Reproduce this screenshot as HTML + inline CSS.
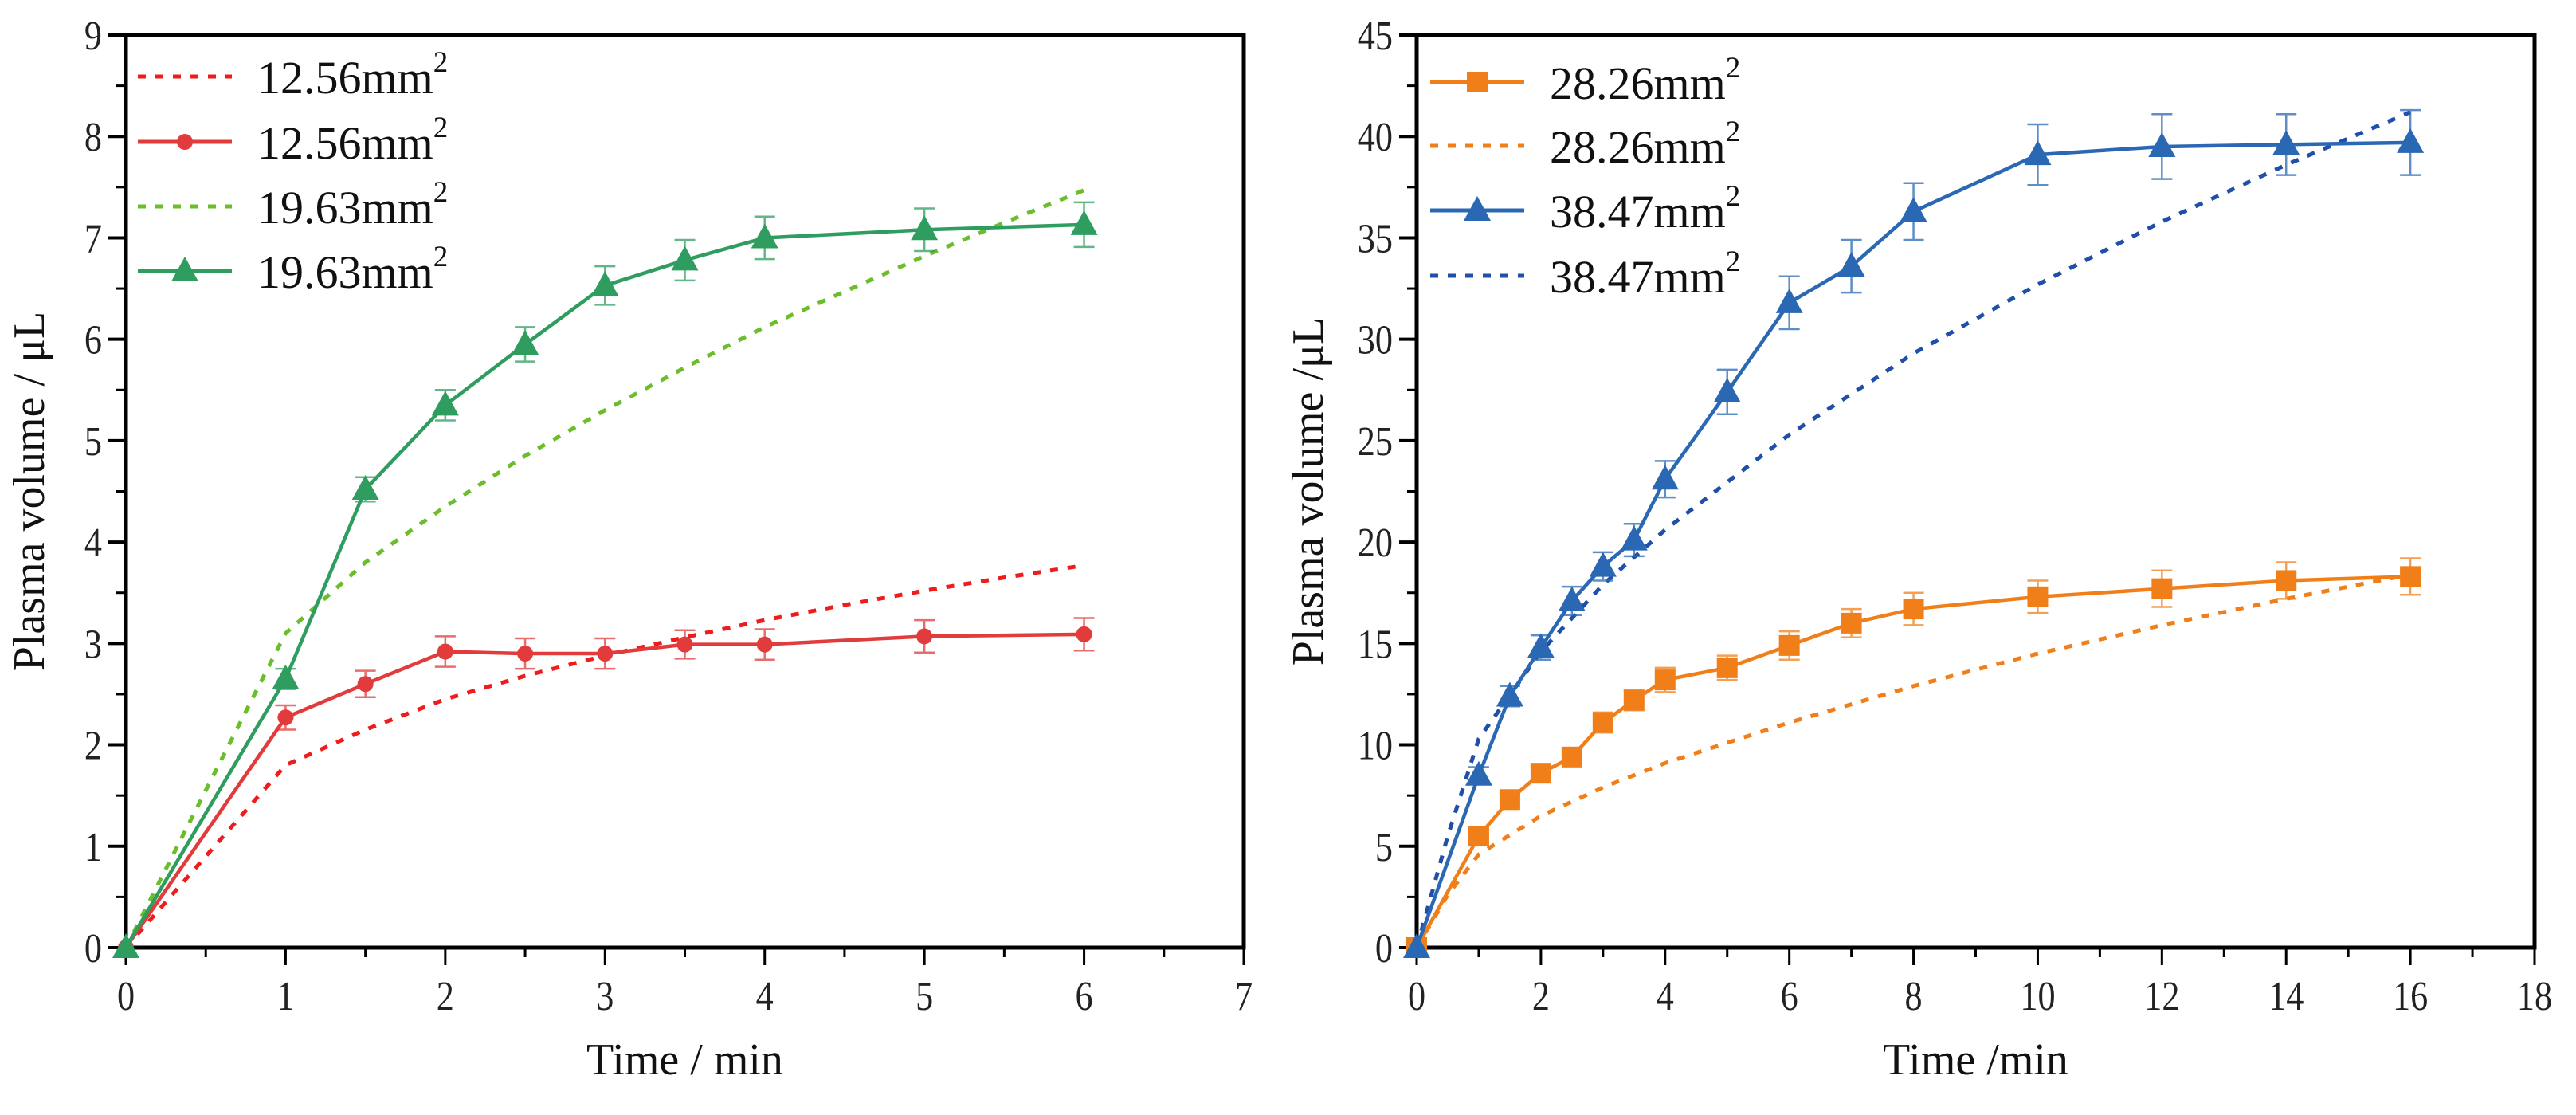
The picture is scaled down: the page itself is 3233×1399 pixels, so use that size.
<!DOCTYPE html>
<html><head><meta charset="utf-8"><style>
html,body{margin:0;padding:0;background:#fff;}
svg{display:block;font-family:"Liberation Serif","DejaVu Serif",serif;}
svg text{font-family:"Liberation Serif","DejaVu Serif",serif;}
</style></head><body>
<svg id="fig" width="3233" height="1399" viewBox="0 0 3233 1399" xmlns="http://www.w3.org/2000/svg" font-family="Liberation Serif, serif"></svg>
<script>
// ---- Left chart data ----
const leftX = [0,1,1.5,2,2.5,3,3.5,4,5,6];
const redSolid = [0,2.27,2.6,2.92,2.9,2.9,2.99,2.99,3.07,3.09];
const redErr = [0,0.12,0.13,0.15,0.15,0.15,0.14,0.15,0.16,0.16];
const greenSolid = [0,2.65,4.52,5.35,5.95,6.53,6.78,7.0,7.08,7.13];
const greenErr = [0,0.1,0.12,0.15,0.17,0.19,0.2,0.21,0.21,0.22];
const fitXLeft = [0,0.5,1,1.5,2,2.5,3,3.5,4,4.5,5,5.5,6];
const redFit = [0,0.9,1.8,2.15,2.45,2.68,2.88,3.06,3.23,3.38,3.52,3.65,3.77];
const greenFit = [0,1.55,3.1,3.8,4.35,4.85,5.3,5.72,6.12,6.47,6.82,7.15,7.47];
const leftXTicks = [0,1,2,3,4,5,6,7];
const leftYTicks = [0,1,2,3,4,5,6,7,8,9];
// ---- Right chart data ----
const rightX = [0,1,1.5,2,2.5,3,3.5,4,5,6,7,8,10,12,14,16];
const orangeSolid = [0,5.5,7.3,8.6,9.4,11.1,12.2,13.2,13.8,14.9,16.0,16.7,17.3,17.7,18.1,18.3];
const orangeErr = [0,0.3,0.3,0.4,0.4,0.5,0.5,0.6,0.6,0.7,0.7,0.8,0.8,0.9,0.9,0.9];
const blueSolid = [0,8.5,12.4,14.8,17.1,18.8,20.1,23.1,27.4,31.8,33.6,36.3,39.1,39.5,39.6,39.7];
const blueErr = [0,0.4,0.5,0.6,0.7,0.7,0.8,0.9,1.1,1.3,1.3,1.4,1.5,1.6,1.5,1.6];
const fitXRight = [0,0.5,1,2,3,4,6,8,10,12,14,16];
const orangeFit = [0,2.6,4.6,6.5,7.9,9.1,11.1,12.9,14.5,15.9,17.2,18.4];
const blueFit = [0,5.5,10.3,14.6,17.9,20.6,25.3,29.3,32.7,35.8,38.6,41.2];
const rightXTicks = [0,2,4,6,8,10,12,14,16,18];
const rightYTicks = [0,5,10,15,20,25,30,35,40,45];

const NS = "http://www.w3.org/2000/svg";
const FF = '"Liberation Serif", "DejaVu Serif", serif';
const svg = document.getElementById('fig');
function mk(tag, attrs, parent){
  const e = document.createElementNS(NS, tag);
  for (const k in attrs) e.setAttribute(k, attrs[k]);
  if (tag==='text') e.setAttribute('font-family', FF);
  (parent||svg).appendChild(e);
  return e;
}
function chart(o){
  const g = mk('g', {});
  
  
  const sx = v => o.x0 + (v - o.xmin) / (o.xmax - o.xmin) * (o.x1 - o.x0);
  const sy = v => o.y0 - (v - o.ymin) / (o.ymax - o.ymin) * (o.y0 - o.y1);
  const fr = mk('rect', {x:o.x0, y:o.y1, width:o.x1-o.x0, height:o.y0-o.y1, fill:'none', stroke:'#000', 'stroke-width':5}, g);
  
  
  for (let i=0;i<o.xticks.length;i++){
    const v=o.xticks[i], x=sx(v);
    const t = mk('line',{x1:x,y1:o.y0,x2:x,y2:o.y0+22,stroke:'#000','stroke-width':3},g);
    
    
    if (i<o.xticks.length-1){
      const xm = sx((v+o.xticks[i+1])/2);
      mk('line',{x1:xm,y1:o.y0,x2:xm,y2:o.y0+12,stroke:'#000','stroke-width':3},g);
    }
    const l = mk('text',{x:0,y:0,'font-size':52,'text-anchor':'middle',fill:'#222',transform:`translate(${x},1267) scale(0.85,1)`},g);
    l.textContent = v;
    
    
  }
  for (let i=0;i<o.yticks.length;i++){
    const v=o.yticks[i], y=sy(v);
    const t = mk('line',{x1:o.x0,y1:y,x2:o.x0-22,y2:y,stroke:'#000','stroke-width':4},g);
    
    
    if (i<o.yticks.length-1){
      const ym = sy((v+o.yticks[i+1])/2);
      mk('line',{x1:o.x0,y1:ym,x2:o.x0-12,y2:ym,stroke:'#000','stroke-width':3},g);
    }
    const l = mk('text',{x:0,y:0,'font-size':52,'text-anchor':'end',fill:'#222',transform:`translate(${o.x0-30},${y+18}) scale(0.85,1)`},g);
    l.textContent = v;
    
    
  }
  const xt = mk('text',{x:(o.x0+o.x1)/2,y:1348,'font-size':56,'text-anchor':'middle',fill:'#111'},g);
  xt.textContent = o.xtitle;
  
  
  const yt = mk('text',{x:0,y:0,'font-size':56,'text-anchor':'middle',fill:'#111',transform:`translate(${o.ytx},${(o.y0+o.y1)/2}) rotate(-90)`},g);
  yt.textContent = o.ytitle;
  
  
  o.series.forEach(s=>{
    const sg = mk('g',{},g);
    
    
    const pts = s.xs.map((x,i)=>sx(x)+','+sy(s.ys[i])).join(' ');
    const attrs = {points:pts, fill:'none', stroke:s.color, 'stroke-width':s.dotted?5:4.5, 'stroke-linejoin':'round'};
    if (s.dotted) attrs['stroke-dasharray']='10 12';
    mk('polyline', attrs, sg);
    if (s.err){
      s.xs.forEach((x,i)=>{
        if (!s.err[i]) return;
        const cx=sx(x), yt=sy(s.ys[i]+s.err[i]), yb=sy(s.ys[i]-s.err[i]);
        const eb = mk('path',{d:`M${cx},${yt}V${yb}M${cx-13},${yt}H${cx+13}M${cx-13},${yb}H${cx+13}`,stroke:s.color,'stroke-width':2.5,fill:'none',opacity:0.75},sg);
        
        
      });
    }
    if (s.marker){
      s.xs.forEach((x,i)=>{
        const m = marker(s.marker, sx(x), sy(s.ys[i]), s.color, sg);
        
        
      });
    }
  });
  o.legend.forEach((s,i)=>{
    const lg = mk('g',{},g);
    
    
    const y = o.legY[i];
    const a = {x1:o.legX, y1:y, x2:o.legX+118, y2:y, stroke:s.color, 'stroke-width':5};
    if (s.dotted) a['stroke-dasharray']='10 12';
    mk('line',a,lg);
    if (s.marker) marker(s.marker, o.legX+59, y, s.color, lg);
    const t = mk('text',{x:o.legX+150,y:y+21,'font-size':58,fill:'#111'},lg);
    t.textContent = s.label;
    const sup = mk('tspan',{dy:-27,'font-size':37},t);
    sup.textContent='2';
  });
}
function marker(type, x, y, color, parent){
  if (type==='circle') return mk('circle',{cx:x,cy:y,r:10},parent).setAttribute('fill',color) || parent.lastChild;
  if (type==='square') return mk('rect',{x:x-13,y:y-13,width:26,height:26,fill:color},parent);
  return mk('path',{d:`M${x},${y-18}L${x+17},${y+13}L${x-17},${y+13}Z`,fill:color},parent);
}
const RED='#e23b3b', REDD='#ee1c1c', GRN='#2f9d5f', GRND='#6cbd2a', ORG='#f07f1a', BLU='#2a68b4', BLUD='#1f4fa8';
const redFitS={name:'red-fit-line',xs:fitXLeft,ys:redFit,color:REDD,dotted:true,label:'12.56mm'};
const redS={name:'red-measured-line',xs:leftX,ys:redSolid,err:redErr,color:RED,marker:'circle',label:'12.56mm'};
const grnFitS={name:'green-fit-line',xs:fitXLeft,ys:greenFit,color:GRND,dotted:true,label:'19.63mm'};
const grnS={name:'green-measured-line',xs:leftX,ys:greenSolid,err:greenErr,color:GRN,marker:'triangle',label:'19.63mm'};
chart({name:'left-chart',x0:158,x1:1561,y0:1189,y1:44,xmin:0,xmax:7,ymin:0,ymax:9,
  xticks:leftXTicks,yticks:leftYTicks,xtitle:'Time / min',ytitle:'Plasma volume / μL',ytx:55,
  series:[redFitS,grnFitS,redS,grnS],legend:[redFitS,redS,grnFitS,grnS],
  legX:173,legY:[96,178,259,340]});
const orgS={name:'orange-measured-line',xs:rightX,ys:orangeSolid,err:orangeErr,color:ORG,marker:'square',label:'28.26mm'};
const orgFitS={name:'orange-fit-line',xs:fitXRight,ys:orangeFit,color:ORG,dotted:true,label:'28.26mm'};
const bluS={name:'blue-measured-line',xs:rightX,ys:blueSolid,err:blueErr,color:BLU,marker:'triangle',label:'38.47mm'};
const bluFitS={name:'blue-fit-line',xs:fitXRight,ys:blueFit,color:BLUD,dotted:true,label:'38.47mm'};
chart({name:'right-chart',x0:1778,x1:3181,y0:1189,y1:44,xmin:0,xmax:18,ymin:0,ymax:45,
  xticks:rightXTicks,yticks:rightYTicks,xtitle:'Time /min',ytitle:'Plasma volume /μL',ytx:1660,
  series:[orgFitS,bluFitS,orgS,bluS],legend:[orgS,orgFitS,bluS,bluFitS],
  legX:1795,legY:[103,183,264,346]});
</script>
</body></html>
